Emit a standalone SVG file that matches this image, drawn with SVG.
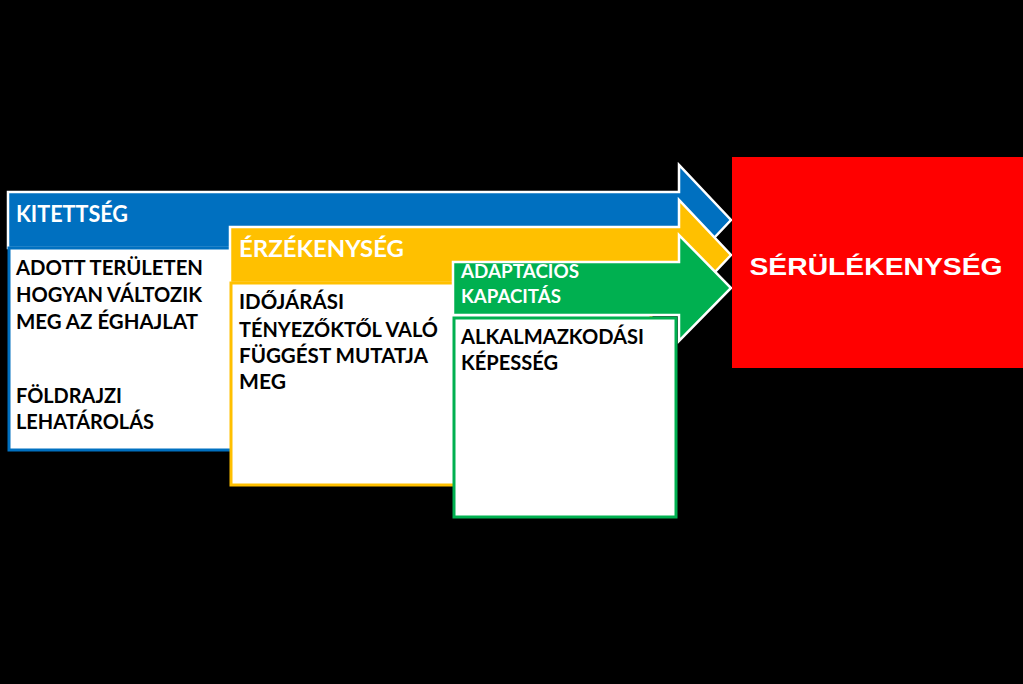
<svg xmlns="http://www.w3.org/2000/svg" width="1023" height="684" viewBox="0 0 1023 684">
<style>
.arr{stroke:#fff;stroke-width:2.5;stroke-linejoin:miter}
.hd{font-family:Lato,"Open Sans","Liberation Sans",sans-serif;font-weight:700;fill:#fff}
.bd{font-family:Lato,"Open Sans","Liberation Sans",sans-serif;font-weight:700;fill:#000;font-size:20px}
.box{fill:#fff;stroke-width:3}
</style>
<defs>
<clipPath id="gclip"><rect x="453" y="262" width="226" height="54"/></clipPath>
</defs>
<rect width="1023" height="684" fill="#000"/>
<g id="kitettseg">
<path class="arr" fill="#0070C0" d="M8,192 H679 V165 L731,220 L679,275 V248 H8 Z"/>
<text class="hd" x="16" y="222" font-size="22" textLength="112" lengthAdjust="spacingAndGlyphs">KITETTSÉG</text>
<rect class="box" stroke="#0070C0" x="9" y="248" width="460" height="202"/>
<text class="bd" x="16" y="275" textLength="187" lengthAdjust="spacingAndGlyphs">ADOTT TERÜLETEN</text>
<text class="bd" x="16" y="302" textLength="186" lengthAdjust="spacingAndGlyphs">HOGYAN VÁLTOZIK</text>
<text class="bd" x="16" y="329" textLength="182" lengthAdjust="spacingAndGlyphs">MEG AZ ÉGHAJLAT</text>
<text class="bd" x="16" y="403" textLength="106" lengthAdjust="spacingAndGlyphs">FÖLDRAJZI</text>
<text class="bd" x="16" y="429" textLength="138" lengthAdjust="spacingAndGlyphs">LEHATÁROLÁS</text>
</g>
<g id="erzekenyseg">
<path class="arr" fill="#FFC000" d="M230,227 H679 V200 L731,255 L679,310 V283 H230 Z"/>
<text class="hd" x="239" y="257" font-size="22" textLength="165" lengthAdjust="spacingAndGlyphs">ÉRZÉKENYSÉG</text>
<rect class="box" stroke="#FFC000" x="231" y="283" width="420" height="202"/>
<text class="bd" x="239" y="309" textLength="105" lengthAdjust="spacingAndGlyphs">IDŐJÁRÁSI</text>
<text class="bd" x="239" y="337" textLength="199" lengthAdjust="spacingAndGlyphs">TÉNYEZŐKTŐL VALÓ</text>
<text class="bd" x="239" y="363" textLength="189" lengthAdjust="spacingAndGlyphs">FÜGGÉST MUTATJA</text>
<text class="bd" x="239" y="389" textLength="47" lengthAdjust="spacingAndGlyphs">MEG</text>
</g>
<g id="adaptacios">
<path class="arr" fill="#00B050" d="M453,262 H679 V235 L731,288 L679,341 V315 H453 Z"/>
<g clip-path="url(#gclip)">
<text class="hd" x="461" y="278" font-size="19" textLength="118" lengthAdjust="spacingAndGlyphs">ADAPTÁCIÓS</text>
<text class="hd" x="461" y="303" font-size="19" textLength="100" lengthAdjust="spacingAndGlyphs">KAPACITÁS</text>
</g>
<rect class="box" stroke="#00B050" x="454" y="318" width="222" height="199"/>
<text class="bd" x="461" y="344" textLength="183" lengthAdjust="spacingAndGlyphs">ALKALMAZKODÁSI</text>
<text class="bd" x="461" y="370" textLength="97" lengthAdjust="spacingAndGlyphs">KÉPESSÉG</text>
</g>
<g id="serulekenyseg">
<rect x="732" y="157" width="291" height="211" fill="#FF0000"/>
<text x="876" y="275" text-anchor="middle" font-family="'Liberation Sans',Arial,sans-serif" font-weight="700" font-size="24" fill="#fff" textLength="253" lengthAdjust="spacingAndGlyphs">SÉRÜLÉKENYSÉG</text>
</g>
</svg>
